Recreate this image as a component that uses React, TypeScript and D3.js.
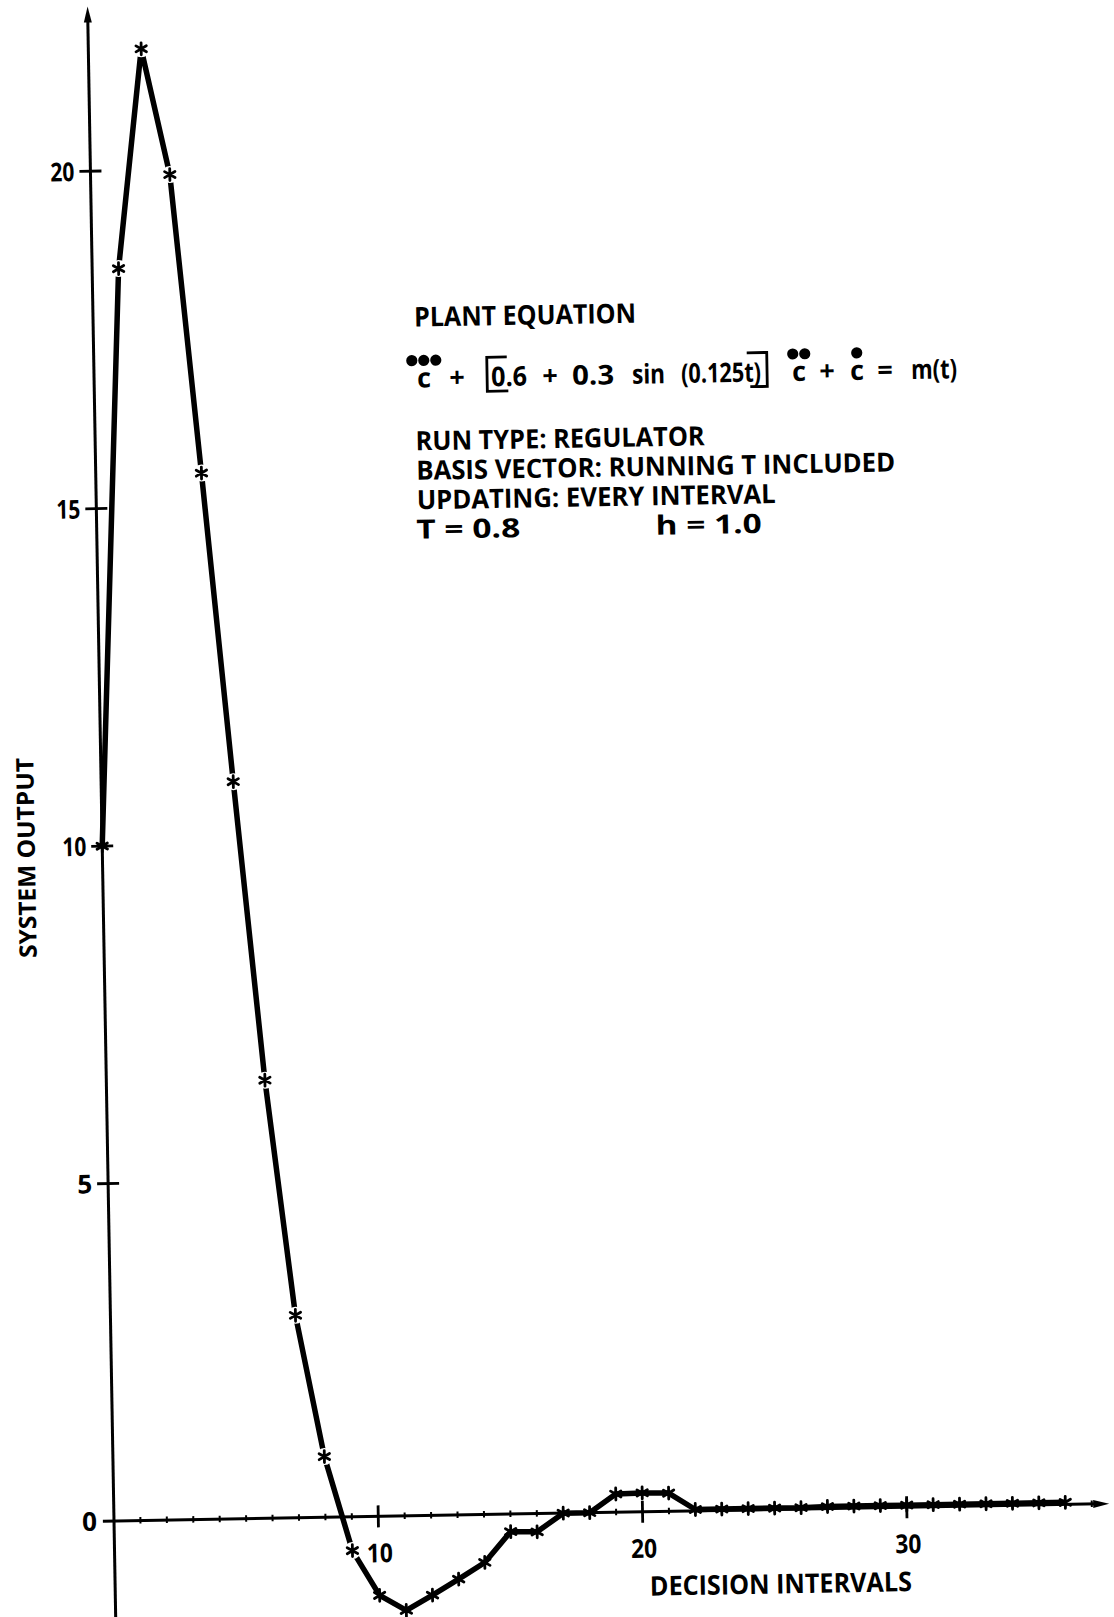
import React from "react";
import * as d3 from "d3";

// Decision interval index and the regulated system output at each interval
const decisionIntervals = [
  0, 1, 2, 3, 4, 5, 6, 7, 8, 9, 10, 11, 12, 13, 14, 15, 16, 17, 18, 19, 20,
  21, 22, 23, 24, 25, 26, 27, 28, 29, 30, 31, 32, 33, 34, 35, 36,
];
const systemOutput = [
  10, 18.55, 21.8, 19.93, 15.5, 10.92, 6.49, 3.0, 0.9, -0.5, -1.17, -1.4,
  -1.18, -0.95, -0.71, -0.26, -0.27, 0, 0, 0.27, 0.28, 0.27, 0.02, 0.02, 0.02,
  0.02, 0.02, 0.03, 0.03, 0.03, 0.03, 0.03, 0.03, 0.03, 0.03, 0.03, 0.03,
];

const yTicks = [5, 10, 15, 20];
const xTicks = [10, 20, 30];
const xDomainEnd = 37.66;
const yDomainTop = 22.44;
const yDomainBottom = -1.8;

const infoLines = [
  "RUN TYPE:  REGULATOR",
  "BASIS VECTOR:  RUNNING T INCLUDED",
  "UPDATING:  EVERY INTERVAL",
];
const infoWidths = [289, 479, 359];

const FONT = "'Open Sans', 'Liberation Sans', Arial, sans-serif";
const INK = "#000";

function Asterisk({ x, y }: { x: number; y: number }) {
  const r = 6;
  const a = r * Math.cos(Math.PI / 6);
  const b = r * Math.sin(Math.PI / 6);
  return (
    <path
      transform={`translate(${x},${y})`}
      d={`M0,${-r}L0,${r}M${-a},${-b}L${a},${b}M${-a},${b}L${a},${-b}`}
      stroke={INK}
      strokeWidth={2.8}
      strokeLinecap="round"
    />
  );
}

function Dot({ x, y }: { x: number; y: number }) {
  return <circle cx={x} cy={y} r={5.6} fill={INK} />;
}

export default function App() {
  const W = 1114;
  const H = 1617;
  const x = d3.scaleLinear().domain([0, 10]).range([114, 378.3]);
  const y = d3.scaleLinear().domain([0, 20]).range([1521, 171]);

  const pts = decisionIntervals.map((k, i) => [x(k), y(systemOutput[i])] as [number, number]);
  const line = d3.line<[number, number]>().x((d) => d[0]).y((d) => d[1]);

  // points on the steep part of the response get a small clearing around the marker
  const segLen = (i: number, j: number) =>
    j < 0 || j >= pts.length ? 0 : Math.hypot(pts[i][0] - pts[j][0], pts[i][1] - pts[j][1]);
  const haloed = pts.map((_, i) => i > 0 && Math.max(segLen(i, i - 1), segLen(i, i + 1)) > 60);

  const x0 = x(0);
  const y0 = y(0);
  const axisTop = y(yDomainTop);
  const axisRight = x(xDomainEnd);
  const minorTicks = decisionIntervals.concat([37]).filter((k) => k > 0 && !xTicks.includes(k));

  // equation layout
  const eqBase = 393;
  const dotY = 366;
  const brTop = 364;
  const brBot = 398;
  const eqSize = 27;

  return (
    <svg
      width={W}
      height={H}
      viewBox={`0 0 ${W} ${H}`}
      style={{ position: "absolute", left: 0, top: 0, background: "#fff" }}
    >
      <rect width={W} height={H} fill="#fff" />
      <g transform={`rotate(-1, ${x0}, ${y0})`} fontFamily={FONT} fontWeight={700} fill={INK}>
        {/* y axis */}
        <line x1={x0} x2={x0} y1={y(yDomainBottom)} y2={axisTop + 10} stroke={INK} strokeWidth={3} />
        <path d={`M${x0},${axisTop} L${x0 - 4},${axisTop + 16} L${x0 + 4},${axisTop + 16} Z`} fill={INK} />
        {/* x axis */}
        <line x1={x(-0.42)} x2={axisRight - 10} y1={y0} y2={y0} stroke={INK} strokeWidth={3} />
        <path d={`M${axisRight},${y0} L${axisRight - 16},${y0 - 4} L${axisRight - 16},${y0 + 4} Z`} fill={INK} />

        {/* y ticks */}
        {yTicks.map((t) => (
          <g key={`yt${t}`}>
            <line x1={x0 - 11} x2={x0 + 11} y1={y(t)} y2={y(t)} stroke={INK} strokeWidth={2.8} />
            <text
              x={x0 - 16}
              y={y(t) + 9.5}
              fontSize={26}
              textAnchor="end"
              textLength={t < 10 ? undefined : 24}
              lengthAdjust="spacingAndGlyphs"
            >
              {t}
            </text>
          </g>
        ))}
        <text x={x0 - 17} y={y0 + 9.5} fontSize={26} textAnchor="end">
          0
        </text>

        {/* x ticks */}
        {xTicks.map((t) => (
          <g key={`xt${t}`}>
            <line x1={x(t)} x2={x(t)} y1={y0 - 11} y2={y0 + 11} stroke={INK} strokeWidth={2.8} />
            <text
              x={x(t) + 1}
              y={y0 + 46}
              fontSize={26}
              textAnchor="middle"
              textLength={26}
              lengthAdjust="spacingAndGlyphs"
            >
              {t}
            </text>
          </g>
        ))}
        {minorTicks.map((k) => (
          <line key={`mt${k}`} x1={x(k)} x2={x(k)} y1={y0 - 3.5} y2={y0 + 3} stroke={INK} strokeWidth={2} />
        ))}

        {/* response curve */}
        <path d={line(pts) || ""} fill="none" stroke={INK} strokeWidth={5.5} strokeLinejoin="round" />
        {pts.map((p, i) =>
          haloed[i] ? <circle key={`h${i}`} cx={p[0]} cy={p[1]} r={8.5} fill="#fff" /> : null
        )}
        {pts.map((p, i) => (
          <Asterisk key={`m${i}`} x={p[0]} y={p[1]} />
        ))}

        {/* axis titles */}
        <text
          transform={`translate(46.6, 856.6) rotate(-90)`}
          fontSize={24}
          textAnchor="middle"
          textLength={200}
          lengthAdjust="spacingAndGlyphs"
        >
          SYSTEM OUTPUT
        </text>
        <text x={648.7} y={1605} fontSize={27} textLength={262} lengthAdjust="spacingAndGlyphs">
          DECISION INTERVALS
        </text>

        {/* plant description */}
        <text x={435} y={332} fontSize={27} textLength={222} lengthAdjust="spacingAndGlyphs">
          PLANT EQUATION
        </text>

        {/* third derivative term */}
        <Dot x={432} y={dotY} />
        <Dot x={444} y={dotY} />
        <Dot x={456} y={dotY} />
        <text x={444} y={eqBase} fontSize={eqSize} textAnchor="middle">c</text>
        <text x={477} y={eqBase} fontSize={eqSize} textAnchor="middle">+</text>
        <path d={`M527,${brTop} H507 V${brBot} H528`} fill="none" stroke={INK} strokeWidth={2.8} />
        <text x={511} y={eqBase} fontSize={eqSize} textLength={36} lengthAdjust="spacingAndGlyphs">0.6</text>
        <text x={570} y={eqBase} fontSize={eqSize} textAnchor="middle">+</text>
        <text x={592} y={eqBase} fontSize={eqSize} textLength={42} lengthAdjust="spacingAndGlyphs">0.3</text>
        <text x={652} y={eqBase} fontSize={eqSize} textLength={33} lengthAdjust="spacingAndGlyphs">sin</text>
        <text x={701} y={eqBase} fontSize={eqSize} textLength={80} lengthAdjust="spacingAndGlyphs">(0.125t)</text>
        <path d={`M767,${brTop} H787 V${brBot} H770`} fill="none" stroke={INK} strokeWidth={2.8} />
        {/* second derivative term */}
        <Dot x={813} y={dotY} />
        <Dot x={825} y={dotY} />
        <text x={819} y={eqBase} fontSize={eqSize} textAnchor="middle">c</text>
        <text x={847} y={eqBase} fontSize={eqSize} textAnchor="middle">+</text>
        {/* first derivative term */}
        <Dot x={877} y={dotY} />
        <text x={877} y={eqBase} fontSize={eqSize} textAnchor="middle">c</text>
        <text x={905} y={eqBase} fontSize={eqSize} textAnchor="middle">=</text>
        <text x={931} y={eqBase} fontSize={eqSize} textLength={46} lengthAdjust="spacingAndGlyphs">m(t)</text>

        {infoLines.map((s, i) => (
          <text
            key={s}
            x={434.5}
            y={455.8 + i * 29.5}
            fontSize={26.5}
            textLength={infoWidths[i]}
            lengthAdjust="spacingAndGlyphs"
          >
            {s}
          </text>
        ))}
        <text x={433.5} y={544.3} fontSize={26.5} textLength={104} lengthAdjust="spacingAndGlyphs">
          T  =  0.8
        </text>
        <text x={673} y={544.3} fontSize={26.5} textLength={106} lengthAdjust="spacingAndGlyphs">
          h  =  1.0
        </text>
      </g>
    </svg>
  );
}
